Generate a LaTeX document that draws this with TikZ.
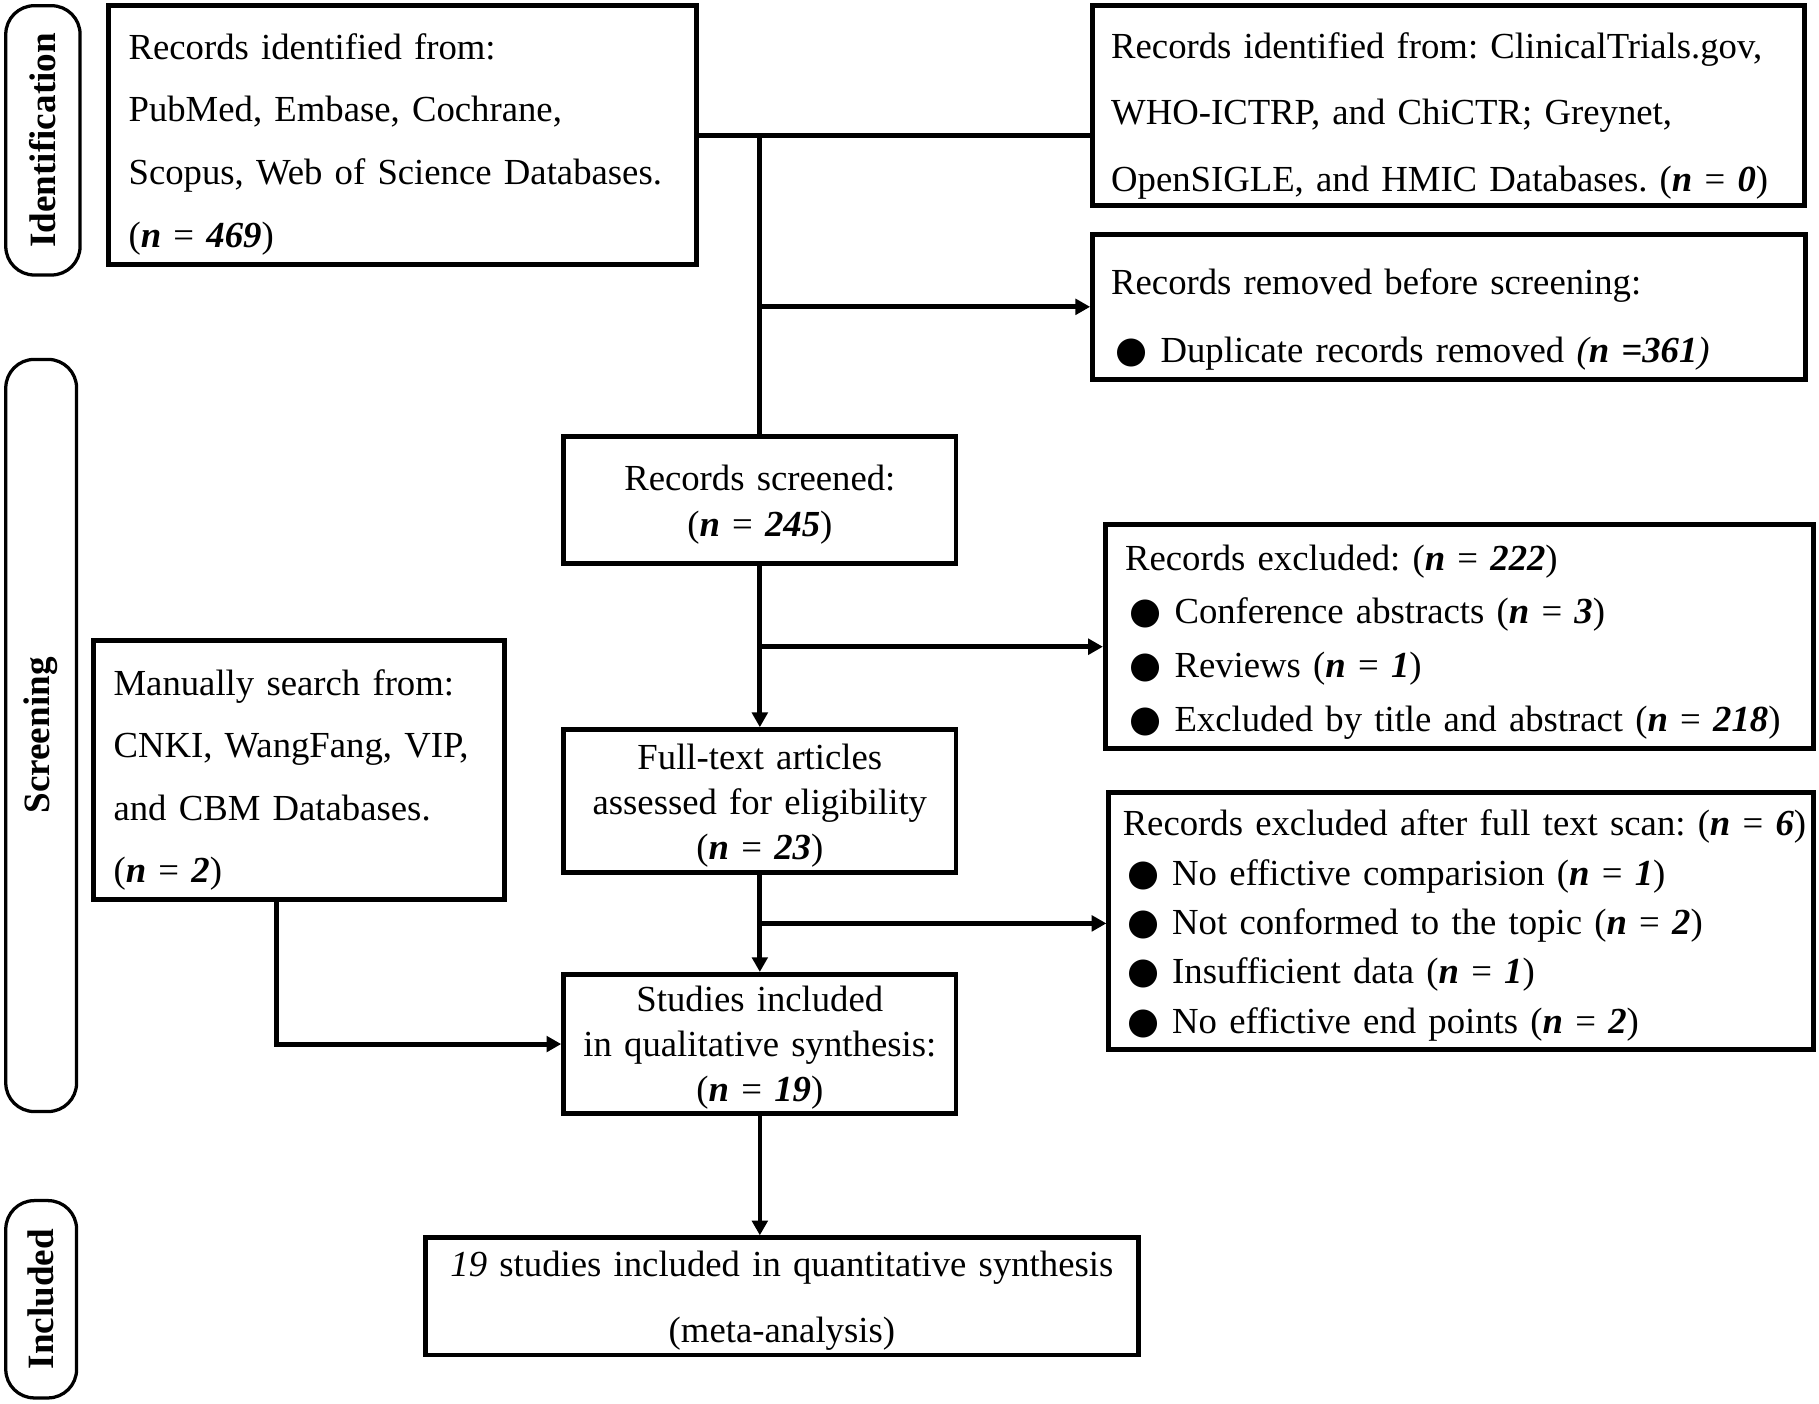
\documentclass[tikz,border=0pt]{standalone}
\usepackage{fontspec}
\setmainfont{Liberation Serif}[WordSpace=0.85]
\newfontfamily\dotfont{DejaVu Sans}
\usetikzlibrary{arrows.meta,calc}
\frenchspacing

\newcommand{\nn}[1]{(\textbf{\textit{n}}~=~\textbf{\textit{#1}})}
\newcommand{\blt}{\hspace{0.04cm}{\dotfont\fontsize{9}{9}\selectfont ●}\hspace{0.11cm}}
\newcommand{\tstrut}[1]{\rule{0pt}{#1}}

\tikzset{
  box/.style={draw, line width=1.2pt, inner ysep=0pt, inner xsep=0.17cm,
    font=\fontsize{9.0}{#1}\selectfont},
  phase/.style={draw, line width=0.8pt, rounded corners=7pt, rotate=90,
    inner sep=0pt, font=\bfseries\fontsize{9.1}{11}\selectfont},
  link/.style={line width=1.2pt},
  arrow/.style={link, -{Triangle[length=3.6pt,width=3.8pt]}}
}

\begin{document}
\begin{tikzpicture}[x=0.01cm, y=-0.01cm]
    \useasboundingbox (0,0) rectangle (1568,1210);

    % Phase labels
    \node[phase, minimum width=2.32cm, minimum height=0.64cm] (ident) at (37,121) {Identification};
    \node[phase, minimum width=6.48cm, minimum height=0.61cm] (screen) at (35.5,634) {Screening};
    \node[phase, minimum width=1.70cm, minimum height=0.61cm] (incl) at (35.5,1120) {Included};

    % Identification
    \node[box=15.4, align=left, text width=4.72cm, minimum height=2.23cm] (dbs) at (347,116.5)
      {\tstrut{0.38cm}Records identified from:\\ PubMed, Embase, Cochrane,\\ Scopus, Web of Science Databases.\\ \nn{469}};
    \node[box=16.3, align=left, text width=5.81cm, inner xsep=0.16cm, minimum height=1.72cm] (reg) at (1248.5,91)
      {\tstrut{0.40cm}Records identified from: ClinicalTrials.gov,\\ WHO-ICTRP, and ChiCTR; Greynet,\\ OpenSIGLE, and HMIC Databases. \nn{0}};
    \node[box=16.5, align=left, text width=5.82cm, inner xsep=0.16cm, minimum height=1.25cm] (dup) at (1249,264.5)
      {\tstrut{0.44cm}Records removed before screening:\\ \blt Duplicate records removed \textit{(\textbf{n =361})}};

    % Screening
    \node[box=11.1, align=center, text width=3.18cm, inner xsep=0.1cm, minimum height=1.10cm] (screened) at (655,431)
      {\tstrut{0.30cm}Records screened:\\ \nn{245}};
    \node[box=13.2, align=left, text width=5.76cm, minimum height=1.93cm] (excl) at (1258,548.5)
      {\tstrut{0.32cm}Records excluded: \nn{222}\\ \blt Conference abstracts \nn{3}\\ \blt Reviews \nn{1}\\
       \blt Excluded by title and abstract \nn{218}};
    \node[box=15.3, align=left, text width=3.20cm, minimum height=2.23cm] (manual) at (258,663.5)
      {\tstrut{0.40cm}Manually search from:\\ CNKI, WangFang, VIP,\\ and CBM Databases.\\ \nn{2}};
    \node[box=11, align=center, text width=3.18cm, inner xsep=0.1cm, minimum height=1.23cm] (full) at (655,690.5)
      {\tstrut{0.30cm}Full-text articles\\ assessed for eligibility\\ \nn{23}};
    \node[box=12.1, align=left, text width=5.83cm, inner xsep=0.12cm, minimum height=2.22cm] (fexcl) at (1259.5,794)
      {\tstrut{0.30cm}\mbox{Records excluded after full text scan: \nn{6}}\\ \blt No effictive comparision \nn{1}\\
       \blt Not conformed to the topic \nn{2}\\ \blt Insufficient data \nn{1}\\ \blt No effictive end points \nn{2}};
    \node[box=11, align=center, text width=3.18cm, inner xsep=0.1cm, minimum height=1.20cm] (qual) at (655,900)
      {\tstrut{0.28cm}Studies included\\ in qualitative synthesis:\\ \nn{19}};

    % Included
    \node[box=16.2, align=center, text width=5.8cm, minimum height=1.01cm] (meta) at (674,1117.5)
      {\tstrut{0.30cm}\textit{19} studies included in quantitative synthesis\\ (meta-analysis)};

    % Connectors
    \coordinate (j1) at (dbs.east -| screened.north);
    \coordinate (j2) at ($(screened.south)!0.5!(full.north)$);
    \coordinate (j3) at ($(full.south)!0.5!(qual.north)$);
    \draw[link] (dbs.east) -- (dbs.east -| reg.west);
    \draw[link] (j1) -- (screened.north);
    \draw[arrow] (screened.north |- dup.west) -- (dup.west);
    \draw[arrow] (screened.south) -- (full.north);
    \draw[arrow] (j2) -- (j2 -| excl.west);
    \draw[arrow] (full.south) -- (qual.north);
    \draw[arrow] (j3) -- (j3 -| fexcl.west);
    \draw[arrow] ([xshift=-0.2cm]manual.south) |- (qual.west);
    \draw[arrow, line width=0.9pt] (qual.south) -- (qual.south |- meta.north);
\end{tikzpicture}
\end{document}
